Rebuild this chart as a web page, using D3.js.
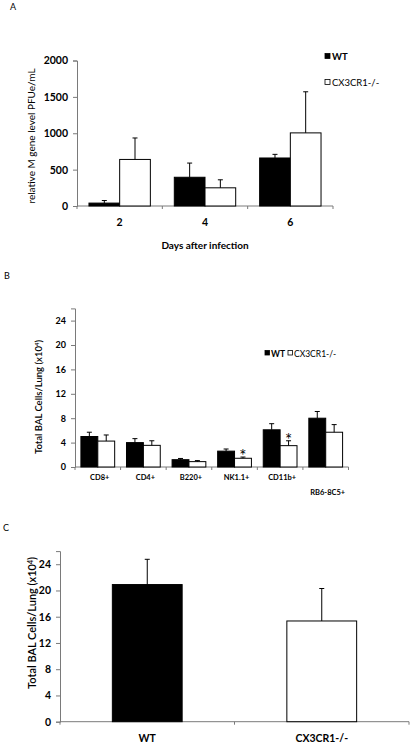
<!DOCTYPE html>
<html>
<head>
<meta charset="utf-8">
<script src="https://cdn.jsdelivr.net/npm/d3@7"></script>
<style>
  html, body { margin: 0; padding: 0; background: #fff; }
  svg { display: block; }
  text { font-family: Lato, "Open Sans", sans-serif; fill: #000; }
</style>
</head>
<body>
<svg id="chart" width="414" height="750"></svg>
<script>
// ---------- Panel A data ----------
const daysCats = ["2", "4", "6"];
const aWT = [40, 395, 660];
const aWTerr = [35, 195, 50];
const aKO = [640, 250, 1005];
const aKOerr = [295, 110, 565];
const aTicks = [0, 500, 1000, 1500, 2000];

// ---------- Panel B data ----------
const cellCats = ["CD8+", "CD4+", "B220+", "NK1.1+", "CD11b+", "RB6-8C5+"];
const bWT = [5.0, 4.0, 1.2, 2.6, 6.1, 8.0];
const bWTerr = [0.7, 0.65, 0.2, 0.35, 1.0, 1.1];
const bKO = [4.25, 3.55, 0.88, 1.43, 3.5, 5.7];
const bKOerr = [1.0, 0.75, 0.17, 0.2, 0.8, 1.25];
const bSig = ["", "", "", "*", "*", ""];
const bTicks = [0, 4, 8, 12, 16, 20, 24];

// ---------- Panel C data ----------
const cCats = ["WT", "CX3CR1-/-"];
const cVals = [20.9, 15.35];
const cErr = [3.85, 4.95];
const cTicks = [0, 4, 8, 12, 16, 20, 24];

const seriesNames = ["WT", "CX3CR1-/-"];
const fills = ["#000", "#fff"];

const svg = d3.select("#chart");
const axisColor = "#7a7a7a";

function yAxisDraw(g, y, ticks, fontSize) {
  const ax = g.call(d3.axisLeft(y).tickValues(ticks).tickSize(4).tickPadding(5).tickFormat(d3.format("d")));
  ax.select(".domain").attr("stroke", axisColor);
  ax.selectAll(".tick line").attr("stroke", axisColor);
  ax.selectAll(".tick text").attr("font-size", fontSize).attr("font-weight", "bold").attr("fill", "#000")
    .attr("font-family", "Lato, sans-serif");
}

function xBaseline(g, x, y0) {
  const [r0, r1] = x.range();
  g.append("line").attr("x1", r0).attr("x2", r1).attr("y1", y0).attr("y2", y0)
    .attr("stroke", axisColor).attr("stroke-width", 1);
  const edges = x.domain().map(d => x(d)).concat([r1]);
  edges.forEach(e => {
    g.append("line").attr("x1", e).attr("x2", e).attr("y1", y0).attr("y2", y0 + 3)
      .attr("stroke", axisColor).attr("stroke-width", 1);
  });
}

function errBar(g, cx, yTop, yErr, cap) {
  g.append("line").attr("x1", cx).attr("x2", cx).attr("y1", yTop).attr("y2", yErr)
    .attr("stroke", "#000").attr("stroke-width", 1);
  g.append("line").attr("x1", cx - cap).attr("x2", cx + cap).attr("y1", yErr).attr("y2", yErr)
    .attr("stroke", "#000").attr("stroke-width", 1);
}

// ================= Panel A =================
{
  const g = svg.append("g");
  g.append("text").attr("x", 10).attr("y", 10).attr("font-size", 9).text("A");

  const y = d3.scaleLinear().domain([0, 2000]).range([206, 60.5]);
  const x = d3.scaleBand().domain(daysCats).range([77, 333]).paddingInner(0).paddingOuter(0);
  const xs = d3.scaleBand().domain(seriesNames).range([0, x.bandwidth()]).paddingOuter(0.39).paddingInner(0);

  yAxisDraw(g.append("g").attr("transform", "translate(77,0)"), y, aTicks, 10.5);
  xBaseline(g, x, 206);

  const series = [[aWT, aWTerr], [aKO, aKOerr]];
  daysCats.forEach((c, i) => {
    series.forEach(([vals, errs], s) => {
      const bx = x(c) + xs(seriesNames[s]);
      const bw = xs.bandwidth();
      g.append("rect").attr("x", bx).attr("y", y(vals[i])).attr("width", bw)
        .attr("height", y(0) - y(vals[i])).attr("fill", fills[s])
        .attr("stroke", "#000").attr("stroke-width", 1);
      errBar(g, bx + bw / 2, y(vals[i]), y(vals[i] + errs[i]), 2.5);
    });
    g.append("text").attr("x", x(c) + x.bandwidth() / 2).attr("y", 226)
      .attr("text-anchor", "middle").attr("font-size", 10.5).attr("font-weight", "bold").text(c);
  });

  g.append("text").attr("transform", "translate(35,136) rotate(-90)")
    .attr("text-anchor", "middle").attr("font-size", 10).attr("fill", "#000").text("relative M gene level PFUe/mL");

  g.append("text").attr("x", 205).attr("y", 249).attr("text-anchor", "middle")
    .attr("font-size", 10).attr("font-weight", "bold").text("Days after infection");

  // legend
  const lg = g.append("g");
  seriesNames.forEach((n, s) => {
    const ly = 56 + s * 26;
    lg.append("rect").attr("x", 325).attr("y", ly - 2.5).attr("width", 5).attr("height", 5)
      .attr("fill", fills[s]).attr("stroke", "#000").attr("stroke-width", 0.8);
    lg.append("text").attr("x", 332).attr("y", ly + 3.5).attr("font-size", 9.5)
      .attr("font-weight", s === 0 ? "bold" : "normal").text(n);
  });
}

// ================= Panel B =================
{
  const g = svg.append("g");
  g.append("text").attr("x", 4).attr("y", 279).attr("font-size", 9).text("B");

  const y = d3.scaleLinear().domain([0, 26]).range([467, 308.4]);
  const x = d3.scaleBand().domain(cellCats).range([75, 348.5]).paddingInner(0).paddingOuter(0);
  const xs = d3.scaleBand().domain(seriesNames).range([0, x.bandwidth()]).paddingOuter(0.35).paddingInner(0);

  yAxisDraw(g.append("g").attr("transform", "translate(75,0)"), y, bTicks, 9);
  xBaseline(g, x, 467);

  const series = [[bWT, bWTerr], [bKO, bKOerr]];
  cellCats.forEach((c, i) => {
    series.forEach(([vals, errs], s) => {
      const bx = x(c) + xs(seriesNames[s]);
      const bw = xs.bandwidth();
      g.append("rect").attr("x", bx).attr("y", y(vals[i])).attr("width", bw)
        .attr("height", y(0) - y(vals[i])).attr("fill", fills[s])
        .attr("stroke", "#000").attr("stroke-width", 1);
      errBar(g, bx + bw / 2, y(vals[i]), y(vals[i] + errs[i]), 2.5);
      if (s === 1 && bSig[i]) {
        g.append("text").attr("x", bx + bw / 2).attr("y", y(vals[i] + errs[i]) + 5)
          .attr("text-anchor", "middle").attr("font-size", 17).attr("font-family", "DejaVu Sans, sans-serif")
          .text(bSig[i]);
      }
    });
    const last = i === cellCats.length - 1;
    g.append("text").attr("x", x(c) + x.bandwidth() / 2 + 2).attr("y", last ? 495 : 479.5)
      .attr("text-anchor", "middle").attr("font-size", 7.5).attr("font-weight", "bold").text(c);
  });

  g.append("text").attr("transform", "translate(42,397) rotate(-90)")
    .attr("text-anchor", "middle").attr("font-size", 9.5).attr("font-weight", "600")
    .html("Total BAL Cells/Lung (x10<tspan dy='-3' font-size='6'>4</tspan><tspan dy='3'>)</tspan>");

  // legend
  const lg = g.append("g");
  const sqX = [265, 288];
  const txX = [271, 294];
  seriesNames.forEach((n, s) => {
    lg.append("rect").attr("x", sqX[s]).attr("y", 350.5).attr("width", 4.5).attr("height", 4.5)
      .attr("fill", fills[s]).attr("stroke", "#000").attr("stroke-width", 0.8);
    lg.append("text").attr("x", txX[s]).attr("y", 357).attr("font-size", 8.5)
      .attr("font-weight", s === 0 ? "bold" : "normal").text(n);
  });
}

// ================= Panel C =================
{
  const g = svg.append("g");
  g.append("text").attr("x", 3).attr("y", 531).attr("font-size", 9).text("C");

  const y = d3.scaleLinear().domain([0, 26]).range([721.7, 551.1]);
  const x = d3.scaleBand().domain(cCats).range([60, 409]).paddingInner(0).paddingOuter(0);
  const barW = x.bandwidth() * 0.4;

  yAxisDraw(g.append("g").attr("transform", "translate(60,0)"), y, cTicks, 10.5);
  xBaseline(g, x, 721.7);

  cCats.forEach((c, i) => {
    const cx = x(c) + x.bandwidth() / 2;
    g.append("rect").attr("x", cx - barW / 2).attr("y", y(cVals[i])).attr("width", barW)
      .attr("height", y(0) - y(cVals[i])).attr("fill", fills[i])
      .attr("stroke", "#000").attr("stroke-width", 1);
    errBar(g, cx, y(cVals[i]), y(cVals[i] + cErr[i]), 2.5);
    g.append("text").attr("x", cx).attr("y", 742).attr("text-anchor", "middle")
      .attr("font-size", 10.5).attr("font-weight", "bold").text(c);
  });

  g.append("text").attr("transform", "translate(36,623) rotate(-90)")
    .attr("text-anchor", "middle").attr("font-size", 11).attr("font-weight", "600")
    .html("Total BAL Cells/Lung (x10<tspan dy='-3.5' font-size='7'>4</tspan><tspan dy='3.5'>)</tspan>");
}
</script>
</body>
</html>
